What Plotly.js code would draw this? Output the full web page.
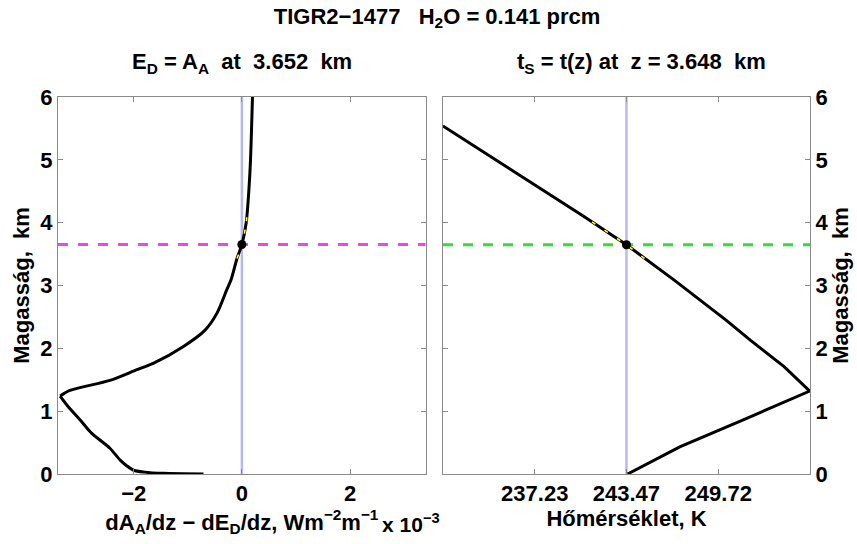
<!DOCTYPE html>
<html>
<head>
<meta charset="utf-8">
<script src="https://cdn.plot.ly/plotly-3.0.1.min.js"></script>
<style>html,body{margin:0;padding:0;background:#fff;}#chart{width:857px;height:544px;}</style>
</head>
<body>
<div id="chart"></div>
<script>
// Left panel: dA_A/dz - dE_D/dz (x 10^-3) versus height (km), lower branch (surface -> tip)
const zAlow = [0.0, 0.01, 0.03, 0.06, 0.13, 0.22, 0.41, 0.65, 0.86, 1.07, 1.24];
const xAlow = [-0.71, -1.45, -1.80, -2.0, -2.13, -2.25, -2.44, -2.78, -2.99, -3.21, -3.36];
// upper branch (tip -> top)
const zAup = [1.24, 1.33, 1.49, 1.66, 1.76, 2.03, 2.29, 2.56, 2.93, 3.09, 3.43, 3.652, 4.0, 4.52, 5.0, 6.0];
const xAup = [-3.36, -3.18, -2.44, -1.94, -1.64, -1.08, -0.68, -0.46, -0.28, -0.20, -0.09, 0.0, 0.08, 0.13, 0.16, 0.196];
// Highlighted (yellow dashed) part of the left curve
const zAy = [3.43, 3.652, 4.0, 4.15];
const xAy = [-0.09, 0.0, 0.08, 0.095];
const crossX = 0.0;
const crossZ = 3.652;

// Right panel: temperature profile (K) versus height (km)
const zT = [0.0, 0.43, 0.89, 1.32, 1.71, 2.13, 2.45, 2.77, 3.09, 3.648, 4.11, 5.54];
const T  = [243.55, 247.1, 251.7, 255.95, 254.2, 251.9, 250.25, 248.5, 246.7, 243.47, 240.5, 230.98];
const zTy = [3.43, 3.648, 4.11];
const Ty  = [244.7, 243.47, 240.5];
const surfT = 243.47;
const crossZT = 3.648;

const xRangeL = [-3.4, 3.4];
const xRangeR = [230.985, 255.965];
const zRange = [0, 6];
const xTicksL = [-2, 0, 2];
const xTicksR = [237.23, 243.47, 249.72];
const xTickTextR = ['237.23', '243.47', '249.72'];
const zTicks = [0, 1, 2, 3, 4, 5, 6];

const FONT = 'Liberation Sans, Arial, sans-serif';
const tickFont = {family: FONT, size: 22, color: '#000', weight: 'bold'};
const titleFont = {family: FONT, size: 22, color: '#000', weight: 'bold'};

const black = {color: '#000', width: 3};
const traces = [
  // left panel
  {x: [crossX, crossX], y: zRange, xaxis: 'x', yaxis: 'y', mode: 'lines', line: {color: '#b8b8f4', width: 2.5}},
  {x: xRangeL, y: [crossZ, crossZ], xaxis: 'x', yaxis: 'y', mode: 'lines', line: {color: '#ee44ee', width: 3, dash: '10px,10px'}},
  {x: xAlow, y: zAlow, xaxis: 'x', yaxis: 'y', mode: 'lines', line: Object.assign({shape: 'spline', smoothing: 0.8}, black)},
  {x: xAup, y: zAup, xaxis: 'x', yaxis: 'y', mode: 'lines', line: Object.assign({shape: 'spline', smoothing: 0.8}, black)},
  {x: xAy, y: zAy, xaxis: 'x', yaxis: 'y', mode: 'lines', line: {color: '#ffff00', width: 1.6, dash: '4px,9px', shape: 'spline'}},
  {x: [crossX], y: [crossZ], xaxis: 'x', yaxis: 'y', mode: 'markers', marker: {color: '#000', size: 9}},
  // right panel
  {x: [surfT, surfT], y: zRange, xaxis: 'x2', yaxis: 'y2', mode: 'lines', line: {color: '#b8b8f4', width: 2.5}},
  {x: xRangeR, y: [crossZT, crossZT], xaxis: 'x2', yaxis: 'y2', mode: 'lines', line: {color: '#33dd33', width: 3, dash: '10px,10px'}},
  {x: T, y: zT, xaxis: 'x2', yaxis: 'y2', mode: 'lines', line: black},
  {x: Ty, y: zTy, xaxis: 'x2', yaxis: 'y2', mode: 'lines', line: {color: '#ffff00', width: 1.6, dash: '4px,11px'}},
  {x: [surfT], y: [crossZT], xaxis: 'x2', yaxis: 'y2', mode: 'markers', marker: {color: '#000', size: 9}}
];

const axCommon = {
  showline: true, linecolor: '#8a8a8a', linewidth: 1, mirror: 'ticks',
  ticks: 'inside', ticklen: 5, tickcolor: '#8a8a8a', tickwidth: 1,
  showgrid: false, zeroline: false, tickfont: tickFont, automargin: false, fixedrange: true
};

const nb = '\u00a0';
const layout = {
  width: 857, height: 544,
  paper_bgcolor: '#fff', plot_bgcolor: '#fff',
  showlegend: false,
  margin: {l: 58, r: 47, t: 97, b: 70},
  title: {text: 'TIGR2−1477' + nb+nb+nb + 'H<sub>2</sub>O = 0.141 prcm', font: titleFont, x: 0.51, xanchor: 'center', y: 0.985, yanchor: 'top'},
  xaxis: Object.assign({}, axCommon, {domain: [0, 0.489], range: xRangeL, tickvals: xTicksL,
    title: {text: 'dA<sub>A</sub>/dz − dE<sub>D</sub>/dz, Wm<sup>−2</sup>m<sup>−1</sup>', font: titleFont, standoff: 4}}),
  yaxis: Object.assign({}, axCommon, {domain: [0, 1], range: zRange, tickvals: zTicks, anchor: 'x',
    title: {text: 'Magasság,' + nb + nb + 'km', font: titleFont, standoff: 4}}),
  xaxis2: Object.assign({}, axCommon, {domain: [0.512, 1], range: xRangeR, tickvals: xTicksR, ticktext: xTickTextR, anchor: 'y2',
    title: {text: 'Hőmérséklet, K', font: titleFont, standoff: 4}}),
  yaxis2: Object.assign({}, axCommon, {domain: [0, 1], range: zRange, tickvals: zTicks, anchor: 'x2', side: 'right',
    title: {text: 'Magasság,' + nb + nb + 'km', font: titleFont, standoff: 4}}),
  annotations: [
    {text: 'E<sub>D</sub> = A<sub>A</sub>' + nb+nb + 'at' + nb+nb + '3.652' + nb+nb + 'km', xref: 'x domain', yref: 'paper', x: 0.5, y: 1, yshift: 34, xanchor: 'center', yanchor: 'middle', showarrow: false, font: titleFont},
    {text: 't<sub>S</sub> = t(z) at' + nb+nb + 'z = 3.648' + nb+nb + 'km', xref: 'x2 domain', yref: 'paper', x: 0.54, y: 1, yshift: 34, xanchor: 'center', yanchor: 'middle', showarrow: false, font: titleFont},
    {text: 'x 10<sup>−3</sup>', xref: 'x domain', yref: 'paper', x: 1, xshift: 16, xanchor: 'right', y: 0, yshift: -49, yanchor: 'middle', showarrow: false, font: {family: FONT, size: 21, color: '#000', weight: 'bold'}}
  ]
};

Plotly.newPlot('chart', traces, layout, {displayModeBar: false, staticPlot: true});
</script>
</body>
</html>
